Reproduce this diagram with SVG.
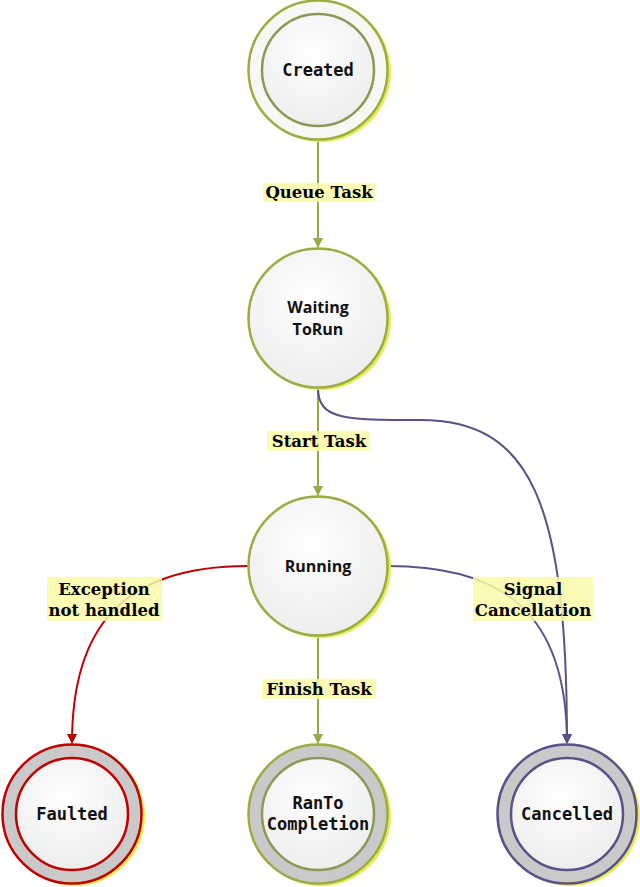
<svg xmlns="http://www.w3.org/2000/svg" width="640" height="887" viewBox="0 0 640 887">
<defs>
<radialGradient id="g" cx="0.45" cy="0.35" r="0.7">
<stop offset="0" stop-color="#ffffff"/>
<stop offset="1" stop-color="#ececec"/>
</radialGradient>
<marker id="ag" viewBox="0 0 10 10" refX="9" refY="5" markerWidth="10" markerHeight="10" markerUnits="userSpaceOnUse" orient="auto"><path d="M0,0 L10,5 L0,10 z" fill="#98a843"/></marker>
<marker id="ar" viewBox="0 0 10 10" refX="9" refY="5" markerWidth="10" markerHeight="10" markerUnits="userSpaceOnUse" orient="auto"><path d="M0,0 L10,5 L0,10 z" fill="#c00000"/></marker>
<marker id="ap" viewBox="0 0 10 10" refX="9" refY="5" markerWidth="10" markerHeight="10" markerUnits="userSpaceOnUse" orient="auto"><path d="M0,0 L10,5 L0,10 z" fill="#5c5088"/></marker>
</defs>
<style>
.sh{fill:#e6ec50}
.n{fill:url(#g);stroke:#9aad45;stroke-width:2.5}
.in{fill:url(#g);stroke:#8a9a55;stroke-width:2.5}
.gr{fill:#c9c9c9}
.mono{font-family:"DejaVu Sans Mono","Liberation Mono",monospace;font-weight:bold;font-size:17px;fill:#111;text-anchor:middle}
.sans{font-family:"Open Sans","Liberation Sans",sans-serif;font-weight:bold;font-size:16px;fill:#111;text-anchor:middle}
.lbl{font-family:"DejaVu Serif","Liberation Serif",serif;font-weight:bold;font-size:16.5px;fill:#000;text-anchor:middle}
.lb{fill:#fafaa8;opacity:0.85}
.e{fill:none;stroke-width:2}
</style>
<g id="connectors">
<path class="e" d="M318,140 L318,247" stroke="#98a843" marker-end="url(#ag)"/>
<path class="e" d="M318,388 L318,495" stroke="#98a843" marker-end="url(#ag)"/>
<path class="e" d="M318,637 L318,743" stroke="#98a843" marker-end="url(#ag)"/>
<path class="e" d="M248,566 C120,566 72,630 72,743" stroke="#c00000" marker-end="url(#ar)"/>
<path class="e" d="M388,566 C500,566 567,610 567,743" stroke="#5c5088" marker-end="url(#ap)"/>
<path class="e" d="M318,388 C318,420 345,420 420,420 C530,420 567,500 567,743" stroke="#5c5088" marker-end="url(#ap)"/>
<g id="label-queue"><rect class="lb" x="263" y="183" width="112" height="19"/><text class="lbl" x="319" y="198">Queue Task</text></g>
<g id="label-start"><rect class="lb" x="267" y="431" width="103" height="20"/><text class="lbl" x="319" y="447">Start Task</text></g>
<g id="label-finish"><rect class="lb" x="262" y="679" width="114" height="20"/><text class="lbl" x="319" y="695">Finish Task</text></g>
<g id="label-exception"><rect class="lb" x="47" y="577" width="115" height="44"/><text class="lbl" x="104" y="595">Exception</text><text class="lbl" x="104" y="616">not handled</text></g>
<g id="label-signal"><rect class="lb" x="473" y="577" width="120" height="44"/><text class="lbl" x="533" y="595">Signal</text><text class="lbl" x="533" y="616">Cancellation</text></g>
</g>
<g id="created">
<circle class="sh" cx="321" cy="72" r="70"/>
<circle cx="318" cy="70" r="69.5" fill="#f7f8f4" stroke="#9aad45" stroke-width="2.5"/>
<circle class="in" cx="318" cy="70" r="56"/>
<text class="mono" x="318" y="76">Created</text>
</g>
<g id="waiting">
<circle class="sh" cx="321" cy="320" r="70"/>
<circle class="n" cx="318" cy="318" r="69.5"/>
<text class="sans" x="318" y="313">Waiting</text>
<text class="sans" x="318" y="335">ToRun</text>
</g>
<g id="running">
<circle class="sh" cx="321" cy="568" r="70"/>
<circle class="n" cx="318" cy="566" r="69.5"/>
<text class="sans" x="318" y="572">Running</text>
</g>
<g id="faulted">
<circle class="sh" cx="75" cy="816" r="70"/>
<circle class="gr" cx="72" cy="814" r="69.5" stroke="#c00000" stroke-width="2.5"/>
<circle cx="72" cy="814" r="56" fill="url(#g)" stroke="#c00000" stroke-width="2.5"/>
<text class="mono" x="72" y="820">Faulted</text>
</g>
<g id="rantocompletion">
<circle class="sh" cx="321" cy="816" r="70"/>
<circle class="gr" cx="318" cy="814" r="69.5" stroke="#9aad45" stroke-width="2.5"/>
<circle cx="318" cy="814" r="56" fill="url(#g)" stroke="#8a9a55" stroke-width="2.5"/>
<text class="mono" x="318" y="809">RanTo</text>
<text class="mono" x="318" y="830">Completion</text>
</g>
<g id="cancelled">
<circle class="sh" cx="570" cy="816" r="70"/>
<circle class="gr" cx="567" cy="814" r="69.5" stroke="#5c5088" stroke-width="2.5"/>
<circle cx="567" cy="814" r="56" fill="url(#g)" stroke="#5c5088" stroke-width="2.5"/>
<text class="mono" x="567" y="820">Cancelled</text>
</g>
</svg>
